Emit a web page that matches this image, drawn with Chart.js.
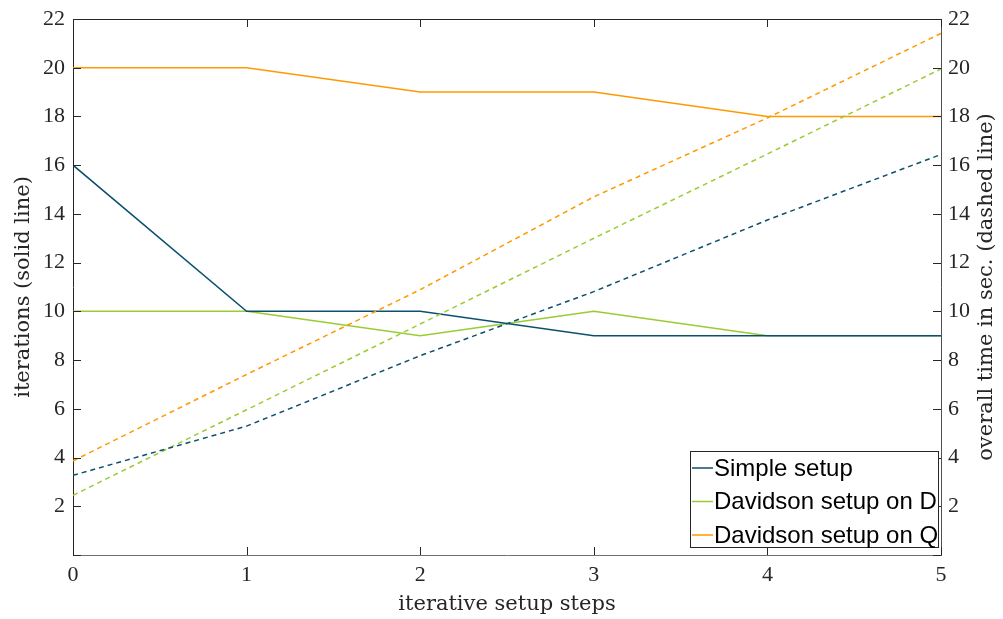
<!DOCTYPE html>
<html><head><meta charset="utf-8">
<script src="https://cdn.jsdelivr.net/npm/chart.js@4/dist/chart.umd.min.js"></script>
<style>html,body{margin:0;padding:0;background:#fff}#wrap{width:1003px;height:619px;position:relative}canvas{display:block}</style>
</head><body><div id="wrap"><canvas id="c" width="1003" height="619"></canvas></div>
<script>
const steps = [0, 1, 2, 3, 4, 5];
const seriesNames = ['Simple setup', 'Davidson setup on D', 'Davidson setup on Q'];
const seriesColors = ['#0d506e', '#99cc33', '#ff9900'];
const iterSimple = [16, 10, 10, 9, 9, 9];
const iterDavD   = [10, 10, 9, 10, 9, 9];
const iterDavQ   = [20, 20, 19, 19, 18, 18];
const timeSimple = [3.27, 5.29, 8.18, 10.81, 13.75, 16.44];
const timeDavD   = [2.45, 5.96, 9.48, 13.0, 16.46, 19.95];
const timeDavQ   = [3.86, 7.41, 10.89, 14.7, 17.94, 21.41];
const xTickLabels = ['0', '1', '2', '3', '4', '5'];
const yTickLabels = ['', '2', '4', '6', '8', '10', '12', '14', '16', '18', '20', '22'];
const xTitle = 'iterative setup steps';
const yTitle = 'iterations (solid line)';
const y2Title = 'overall time in sec. (dashed line)';

const iterSeries = [iterSimple, iterDavD, iterDavQ];
const timeSeries = [timeSimple, timeDavD, timeDavQ];
const toPts = arr => arr.map((v, i) => ({x: steps[i], y: v}));

const datasets = [];
timeSeries.forEach((arr, k) => datasets.push({
  label: seriesNames[k] + ' (time)', data: toPts(arr), yAxisID: 'y2', inLegend: false,
  borderColor: seriesColors[k], borderWidth: 1.5, borderDash: [5, 4], pointRadius: 0, tension: 0, fill: false
}));
iterSeries.forEach((arr, k) => datasets.push({
  label: seriesNames[k], data: toPts(arr), yAxisID: 'y', inLegend: true,
  borderColor: seriesColors[k], borderWidth: 1.5, pointRadius: 0, tension: 0, fill: false
}));

const serif = "'Liberation Serif', serif";
const titleFont = "'DejaVu Serif', serif";
const axisCol = '#262626';

const decor = {
  id: 'decor',
  afterDraw(chart) {
    const ctx = chart.ctx, a = chart.chartArea;
    const xs = chart.scales.x, yl = chart.scales.y, yr = chart.scales.y2;
    ctx.save();
    ctx.lineWidth = 1;
    ctx.strokeStyle = axisCol;
    ctx.beginPath();
    ctx.moveTo(a.left, Math.round(a.top) + 0.5);
    ctx.lineTo(a.right, Math.round(a.top) + 0.5);
    ctx.stroke();
    const TL = 8;
    ctx.beginPath();
    xs.ticks.forEach((t, i) => {
      const px = Math.round(xs.getPixelForTick(i)) + 0.5;
      ctx.moveTo(px, a.bottom); ctx.lineTo(px, a.bottom - TL);
      ctx.moveTo(px, a.top); ctx.lineTo(px, a.top + TL);
    });
    yl.ticks.forEach((t, i) => {
      const py = Math.round(yl.getPixelForTick(i)) + 0.5;
      ctx.moveTo(a.left, py); ctx.lineTo(a.left + TL, py);
    });
    yr.ticks.forEach((t, i) => {
      const py = Math.round(yr.getPixelForTick(i)) + 0.5;
      ctx.moveTo(a.right, py); ctx.lineTo(a.right - TL, py);
    });
    ctx.stroke();

    ctx.save();
    ctx.translate(987, (a.top + a.bottom) / 2);
    ctx.rotate(-Math.PI / 2);
    ctx.fillStyle = axisCol;
    ctx.font = "21px " + titleFont;
    ctx.textAlign = 'center';
    ctx.textBaseline = 'middle';
    ctx.fillText(y2Title, 0, 0);
    ctx.restore();

    const items = chart.data.datasets.filter(d => d.inLegend);
    const bx = 690.5, by = 451.5, bw = 248, rowH = 33.5;
    const bh = 96;
    ctx.fillStyle = '#ffffff';
    ctx.fillRect(bx, by, bw, bh);
    ctx.strokeStyle = axisCol;
    ctx.lineWidth = 1;
    ctx.strokeRect(bx, by, bw, bh);
    ctx.font = "24px 'Liberation Sans', Arial, sans-serif";
    ctx.textBaseline = 'middle';
    ctx.textAlign = 'left';
    items.forEach((d, i) => {
      const cy = 468 + i * rowH;
      ctx.strokeStyle = d.borderColor;
      ctx.lineWidth = 1.5;
      ctx.beginPath();
      ctx.moveTo(692, cy); ctx.lineTo(713, cy);
      ctx.stroke();
      ctx.fillStyle = '#000';
      ctx.fillText(d.label, 714, cy + 1);
    });
    ctx.restore();
  }
};

new Chart(document.getElementById('c'), {
  type: 'line',
  data: { datasets },
  options: {
    responsive: false,
    animation: false,
    layout: { padding: { top: 18, right: 0, left: 0, bottom: 0 } },
    plugins: { legend: { display: false }, tooltip: { enabled: false } },
    scales: {
      x: {
        type: 'linear', min: 0, max: 5,
        grid: { display: false, drawTicks: false },
        border: { display: true, color: '#707070', width: 1 },
        ticks: { stepSize: 1, padding: 9, color: axisCol, font: { family: serif, size: 22, lineHeight: 1 },
          callback: (v) => xTickLabels[steps.indexOf(v)] ?? '' , maxRotation: 0 },
        title: { display: true, text: xTitle, color: axisCol, font: { family: titleFont, size: 21 }, padding: { top: 0, bottom: 2 } },
        afterFit: s => { s.height = 64; }
      },
      y: {
        type: 'linear', position: 'left', min: 0, max: 22,
        grid: { display: false, drawTicks: false },
        border: { display: true, color: axisCol, width: 1 },
        ticks: { stepSize: 2, padding: 8, color: axisCol, font: { family: serif, size: 22, lineHeight: 1 },
          callback: (v) => yTickLabels[v / 2] ?? '' },
        title: { display: true, text: yTitle, color: axisCol, font: { family: titleFont, size: 21 }, padding: { top: 11, bottom: 0 } },
        afterFit: s => { s.width = 73; }
      },
      y2: {
        type: 'linear', position: 'right', min: 0, max: 22,
        grid: { display: false, drawTicks: false },
        border: { display: true, color: '#505050', width: 1 },
        ticks: { stepSize: 2, padding: 7, color: axisCol, font: { family: serif, size: 22, lineHeight: 1 },
          callback: (v) => yTickLabels[v / 2] ?? '' },
        title: { display: false },
        afterFit: s => { s.width = 62; }
      }
    }
  },
  plugins: [decor]
});
</script></body></html>
